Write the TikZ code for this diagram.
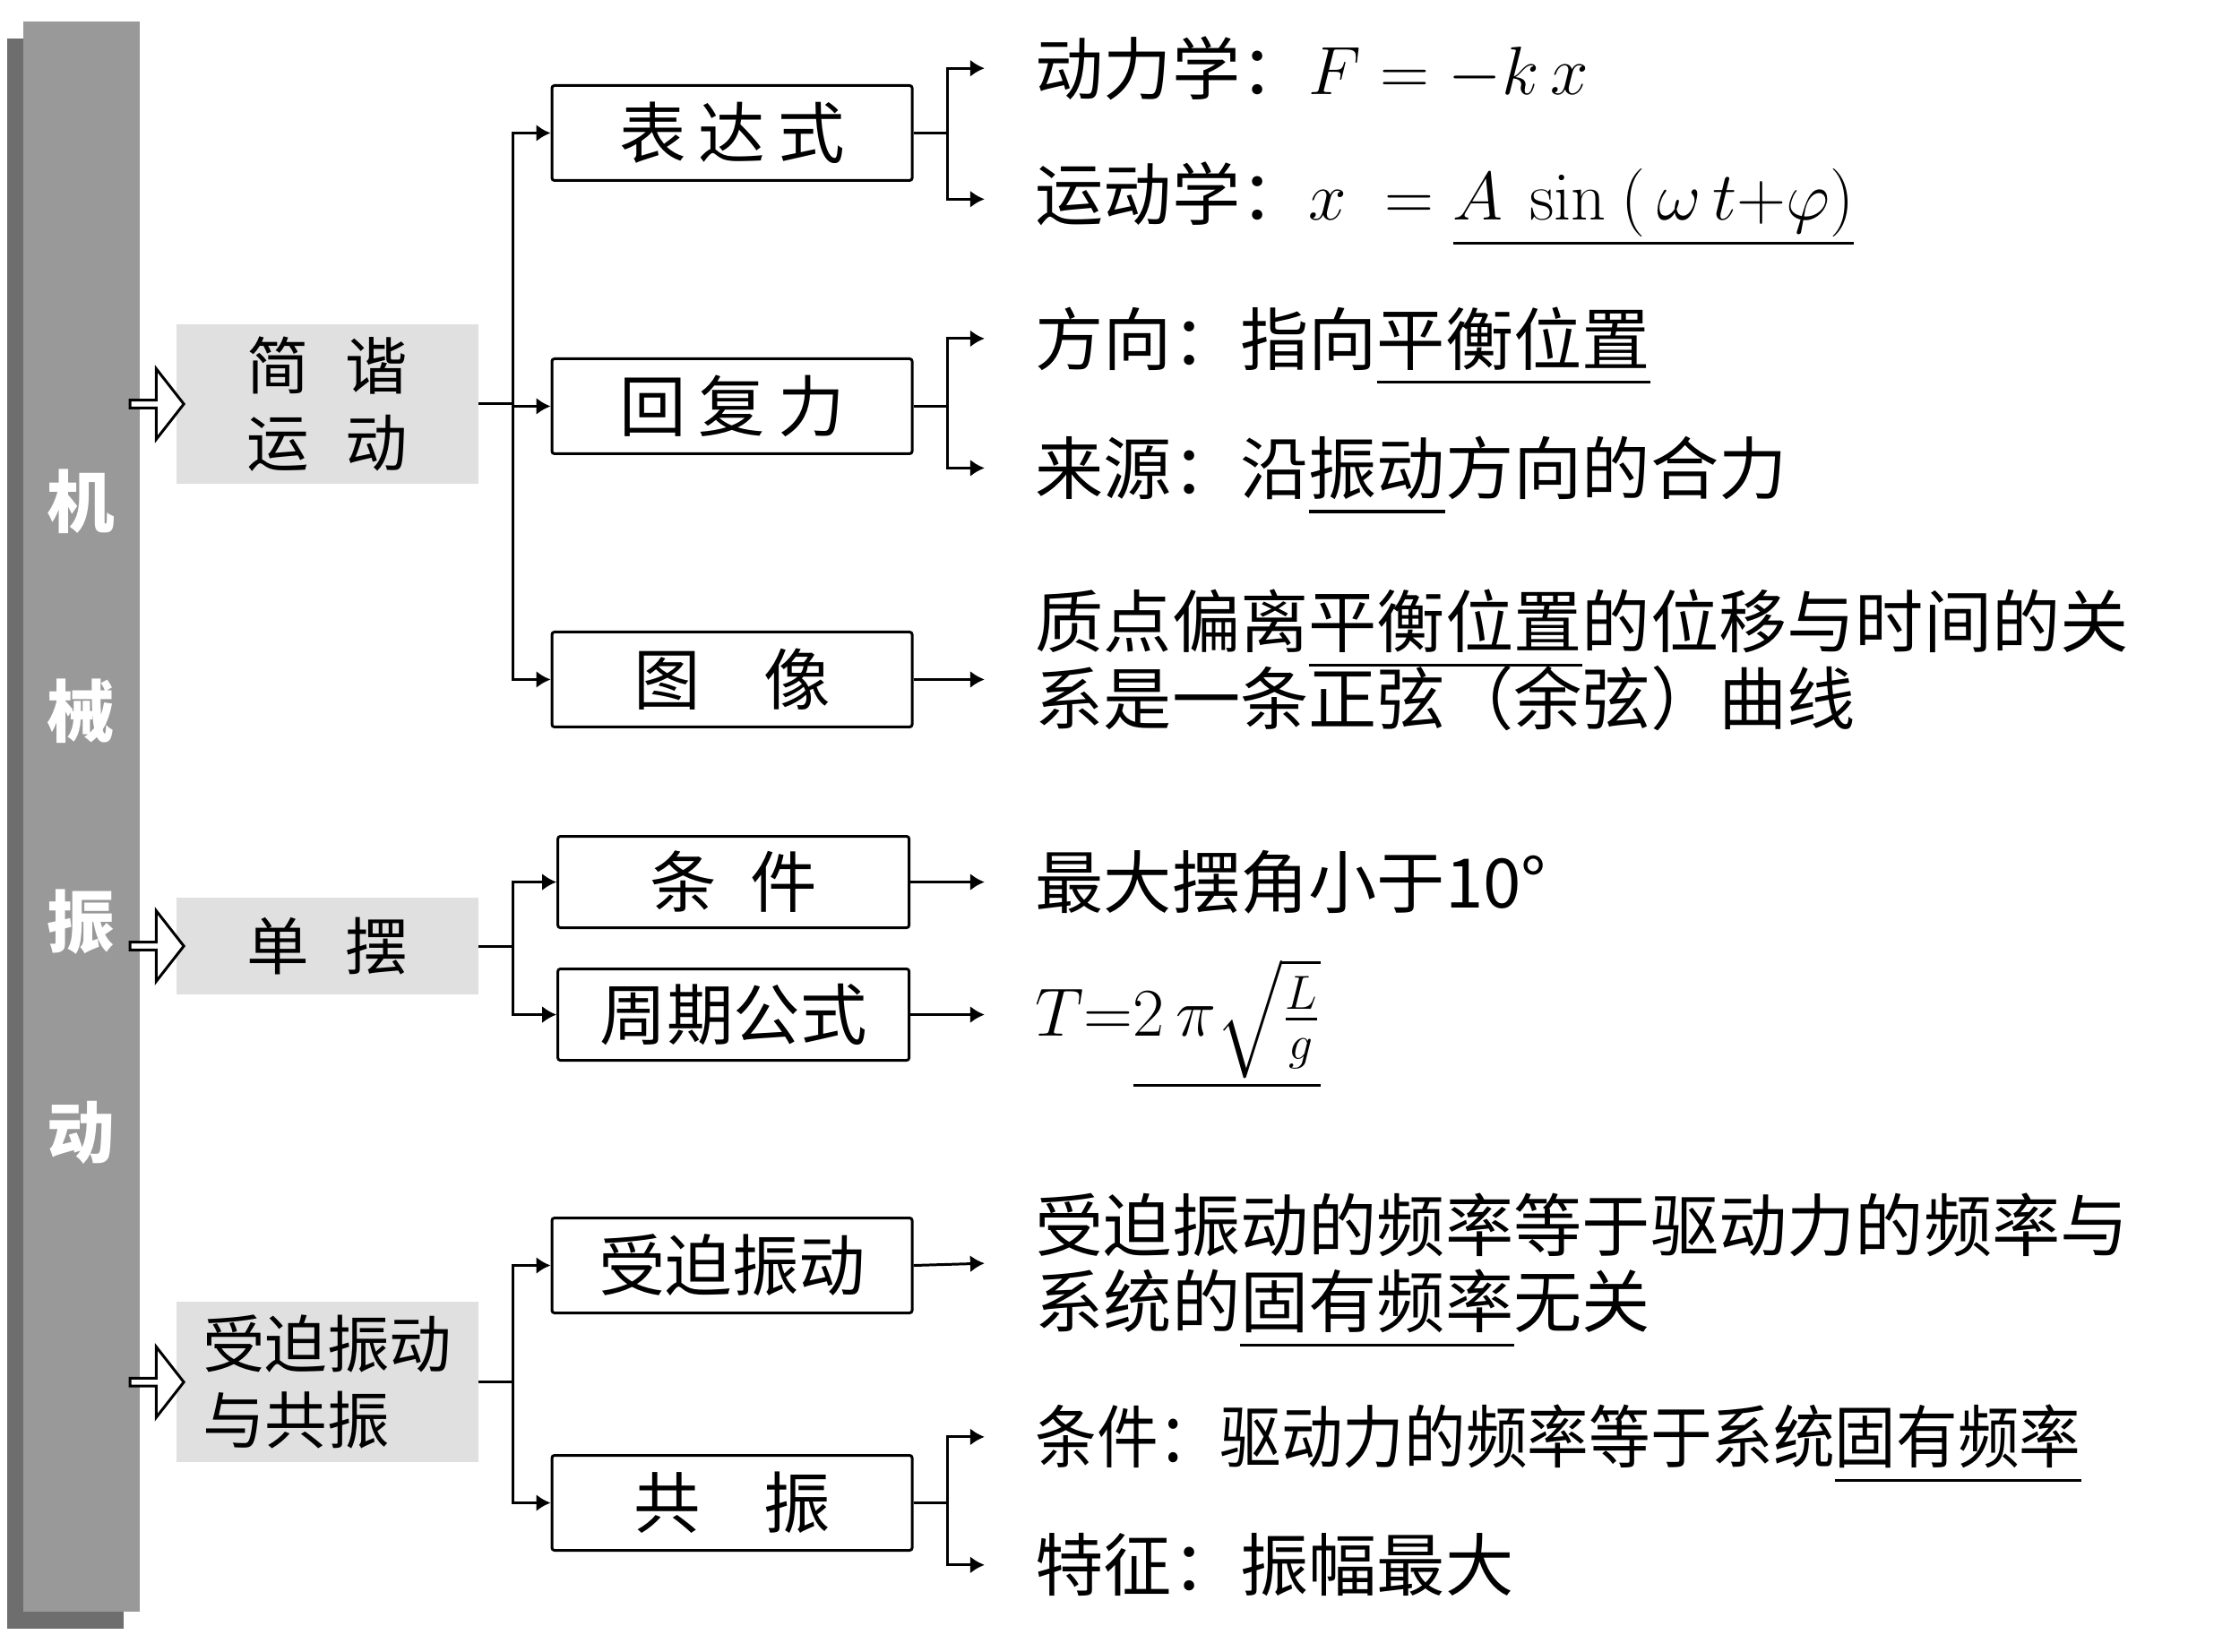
\RequirePackage{fix-cm}
\documentclass[tikz,border=0pt]{standalone}
\usepackage{amsmath}
\usepackage[no-math]{fontspec}
\setmainfont{Noto Sans CJK SC}
\newfontfamily\cjknarrow[FakeStretch=0.9]{Noto Sans CJK SC}
\usetikzlibrary{arrows.meta,positioning,shapes.arrows,shadows}

\definecolor{bargray}{HTML}{999999}
\definecolor{shadegray}{HTML}{6E6E6E}
\definecolor{topicgray}{HTML}{E0E0E0}

\newcommand{\fillin}[1]{\setbox0=\hbox{#1}\dimen0=\dp0 \advance\dimen0 by 2.5pt
  \ifdim\dimen0<6pt \dimen0=6pt\fi
  \rlap{\raisebox{-\dimen0}[0pt][0pt]{\rule{\wd0}{0.9pt}}}\box0}

\begin{document}
\begin{tikzpicture}[x=0.1588mm, y=-0.1588mm,
  bar/.style={fill=bargray, text=white, align=center, inner sep=0pt,
    minimum width=13mm, minimum height=177.5mm,
    font=\fontsize{21.5}{66.8}\selectfont\bfseries,
    general shadow={fill=shadegray, shadow xshift=-1.75mm, shadow yshift=-1.9mm}},
  topic/.style={fill=topicgray, align=left, inner sep=0pt, minimum width=33.7mm,
    font=\fontsize{19.8}{24.3}\selectfont},
  fat/.style={single arrow, draw, fill=white, line width=0.85pt, inner sep=0pt,
    minimum height=6mm, minimum width=7.9mm,
    single arrow head extend=1.2mm, single arrow tip angle=104},
  box/.style={draw, line width=0.85pt, rounded corners=0.8pt, inner sep=0pt,
    minimum width=40.2mm, minimum height=10.6mm, font=\fontsize{21.2}{24}\selectfont},
  leaf/.style={anchor=west, align=left, inner xsep=5.6mm, inner ysep=0pt,
    font=\fontsize{21.7}{24.3}\selectfont},
  arr/.style={-{Latex[length=1.6mm, width=1.9mm]}, line width=0.85pt}
]
\useasboundingbox (0,0) rectangle (1568,1161);

% subject bar
\node[bar] (subject) at (57,574) {机\\械\\振\\动};

% first level
\node[topic, minimum height=17.8mm] (shm) at (230,284) {简\hspace{4mm}谐\\运\hspace{4mm}动};
\node[topic, minimum height=10.8mm] (pend) at (230,665) {单\hspace{4mm}摆};
\node[topic, minimum height=17.9mm] (forced) at (230,971.5) {受迫振动\\与共振};

\node[fat, anchor=tip] (fat1) at ([xshift=1.1mm]shm.west) {};
\node[fat, anchor=tip] (fat2) at ([xshift=1.1mm]pend.west) {};
\node[fat, anchor=tip] (fat3) at ([xshift=1.1mm]forced.west) {};

% second level
\node[box] (expr) at (514.5,93.5) {表\hspace{1.4mm}达\hspace{1.4mm}式};
\node[box, below=19.6mm of expr] (restore) {回\hspace{1.4mm}复\hspace{1.4mm}力};
\node[box, below=19.6mm of restore] (img) {图\hspace{7mm}像};
\node[box, minimum width=39.2mm, minimum height=10.2mm] (cond) at (515.5,620) {条\hspace{3.8mm}件};
\node[box, minimum width=39.2mm, minimum height=10.2mm, below=4.3mm of cond] (period) {周期公式};
\node[box] (fv) at (514.5,889.5) {受迫振动};
\node[box, below=15.6mm of fv] (res) {共\hspace{7mm}振};

% third level
\node[leaf] (dyn) at (692,48) {动力学：$F = -k\,x$};
\node[leaf] (kin) at (692,140) {运动学：$x\;=\;$\fillin{$A\ \sin\ (\,\omega\,t{+}\varphi)$}};
\node[leaf] (dir) at (692,238) {方向：指向\fillin{平衡位置}};
\node[leaf] (src) at (692,329) {来源：沿\fillin{振动}方向的合力};
\node[leaf] (curve) at (692,464) {质点偏离\fillin{平衡位置}的位移与时间的关\\系是一条正弦（余弦）曲线};
\node[leaf] (small) at (692,620) {最大摆角小于10°};
\node[leaf] (formula) at (692,716) {$T{=}$\fillin{$2\,\pi\sqrt{\tfrac{L}{g}}$}};
\node[leaf] (freq) at (692,888) {受迫振动的频率等于驱动力的频率与\\系统的\fillin{固有频率}无关};
\node[leaf, font=\fontsize{21.7}{24.3}\cjknarrow] (need) at (692,1010) {条件：驱动力的频率等于系统\fillin{固有频率}};
\node[leaf] (feat) at (692,1100) {特征：振幅最大};

% connectors
\draw[arr] (shm.east) -- ++(24,0) |- (expr.west);
\draw[arr] (shm.east) -- ++(24,0) |- (restore.west);
\draw[arr] (shm.east) -- ++(24,0) |- (img.west);
\draw[arr] (pend.east) -- ++(24,0) |- (cond.west);
\draw[arr] (pend.east) -- ++(24,0) |- (period.west);
\draw[arr] (forced.east) -- ++(24,0) |- (fv.west);
\draw[arr] (forced.east) -- ++(24,0) |- (res.west);

\draw[arr] (expr.east) -- ++(24,0) |- (dyn.west);
\draw[arr] (expr.east) -- ++(24,0) |- (kin.west);
\draw[arr] (restore.east) -- ++(24,0) |- (dir.west);
\draw[arr] (restore.east) -- ++(24,0) |- (src.west);
\draw[arr] (img.east) -- (img.east -| curve.west);
\draw[arr] (cond.east) -- (small.west);
\draw[arr] (period.east) -- (period.east -| formula.west);
\draw[arr] (fv.east) -- (freq.west);
\draw[arr] (res.east) -- ++(24,0) |- (need.west);
\draw[arr] (res.east) -- ++(24,0) |- (feat.west);

\end{tikzpicture}
\end{document}
